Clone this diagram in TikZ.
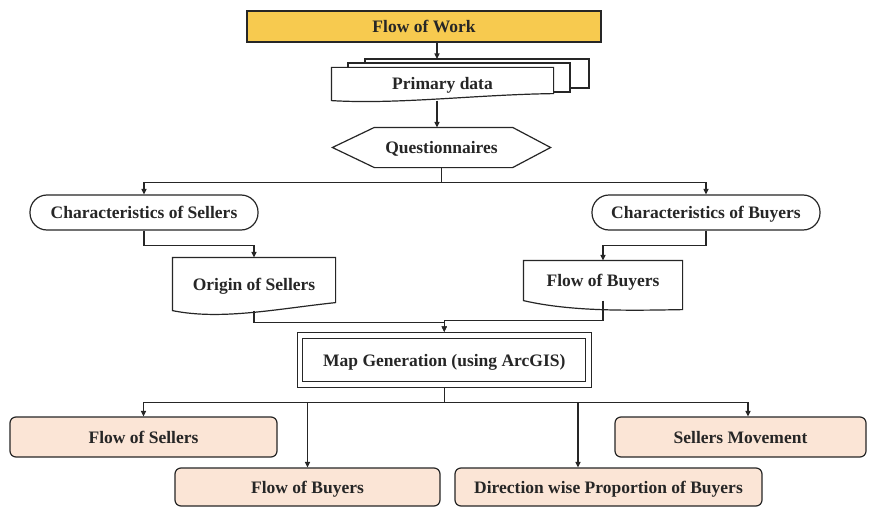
\documentclass[tikz,border=0pt]{standalone}
\usepackage{fontspec}
\setmainfont{Liberation Serif}
\usetikzlibrary{positioning, arrows.meta, calc, backgrounds}
\definecolor{workgold}{HTML}{F7CA4F}
\definecolor{peach}{HTML}{FBE5D6}
\definecolor{ink}{HTML}{262626}
\tikzset{
  box/.style={draw=ink, line width=1.2pt, inner sep=0pt, align=center, text=ink, text height=15pt, text depth=3pt, font=\fontsize{17.5}{20}\selectfont\bfseries},
  plain/.style={box, draw=none},
  title/.style={box, fill=workgold},
  term/.style={box, rounded corners=17pt},
  result/.style={box, fill=peach, rounded corners=6pt},
  mapbox/.style={box, double, double distance=4.5pt},
  docline/.style={draw=ink, line width=1.2pt, fill=white},
  arr/.style={-{Triangle[length=5.5pt,width=5pt]}, line width=1.2pt, draw=ink},
  line/.style={line width=1.2pt, draw=ink}
}
% document outline: node, right end lift, control lifts near right / near left
\newcommand{\docframe}[4]{%
  \draw[docline] (#1.south west) -- (#1.north west) -- (#1.north east) -- ([yshift=#2]#1.south east)
    .. controls ($(#1.south east)!0.35!(#1.south west)+(0pt,#3)$)
           and ($(#1.south east)!0.7!(#1.south west)+(0pt,#4)$) .. (#1.south west) -- cycle;}

\begin{document}
\begin{tikzpicture}[x=1pt, y=-1pt]
\useasboundingbox (0,0) rectangle (874,508);

% top of the flow
\node[title, minimum width=354pt, minimum height=31pt] (work) at (424,26.5) {Flow of Work};
\node[plain, minimum width=221pt, minimum height=32pt] (pd) at (442.5,84) {Primary data};
\node[plain, minimum width=217pt, minimum height=39pt] (qn) at (441.5,147.5) {Questionnaires};

% two branches
\node[term, minimum width=228pt, minimum height=35pt] (cs) at (144,212.5) {Characteristics of Sellers};
\node[term, minimum width=228pt, minimum height=35pt] (cb) at (706,212.5) {Characteristics of Buyers};
\node[plain, minimum width=162pt, minimum height=52pt] (os) at (254,284) {Origin of Sellers};
\node[plain, minimum width=158pt, minimum height=39pt] (fb) at (603,280.5) {Flow of Buyers};

\node[mapbox, minimum width=288.5pt, minimum height=49pt] (map) at (444.25,360) {Map Generation (using ArcGIS)};

% outputs
\node[result, minimum width=267pt, minimum height=40pt] (rs) at (143.5,437) {Flow of Sellers};
\node[result, minimum width=265pt, minimum height=38pt] (rb) at (307.5,487) {Flow of Buyers};
\node[result, minimum width=307pt, minimum height=38pt] (rd) at (608.5,487) {Direction wise Proportion of Buyers};
\node[result, minimum width=251pt, minimum height=40pt] (rm) at (740.5,437) {Sellers Movement};

\begin{pgfonlayer}{background}
  \fill[white] (0,0) rectangle (874,508);
  % stacked pages behind primary data
  \draw[docline] (365,59) rectangle (589,88);
  \draw[docline] (348,63) rectangle (570,92);
  \docframe{pd}{7pt}{6pt}{-4pt}
  \docframe{os}{8pt}{2pt}{-10pt}
  \docframe{fb}{-9pt}{-10pt}{-11pt}
  % hexagon
  \draw[docline] ([xshift=42pt]qn.north west) -- ([xshift=-38pt]qn.north east) -- (qn.east)
    -- ([xshift=-38pt]qn.south east) -- ([xshift=42pt]qn.south west) -- (qn.west) -- cycle;
\end{pgfonlayer}

\coordinate (pdtop) at (437,59);
\coordinate (rmin) at ([xshift=7.5pt]rm.north);
\coordinate (rdin) at ([xshift=-30.5pt]rd.north);

\draw[arr] (work.south -| pdtop) -- (pdtop);
\draw[arr] (pd.south -| pdtop) -- (qn.north -| pdtop);
\draw[arr] (qn.south) -- ++(0,15) coordinate (qfork) -- (qfork -| cs.north) -- (cs.north);
\draw[arr] (qfork) -| (cb.north);
\draw[arr] (cs.south) -- ++(0,15) -| (os.north);
\draw[arr] (cb.south) -- ++(0,15) -| (fb.north);
\draw[arr] (os.south) -- ++(0,12) -| ([yshift=3pt]map.north);
\draw[arr] (fb.south) -- ++(0,20) -| ([yshift=3pt]map.north);
\draw[line] ([yshift=-3pt]map.south) -- ++(0,14) coordinate (mfork);
\draw[arr] (mfork) -- (mfork -| rs.north) -- (rs.north);
\draw[arr] (mfork) -| (rmin);
\draw[arr] (mfork -| rb.north) -- (rb.north);
\draw[arr] (mfork -| rdin) -- (rdin);
\end{tikzpicture}
\end{document}
